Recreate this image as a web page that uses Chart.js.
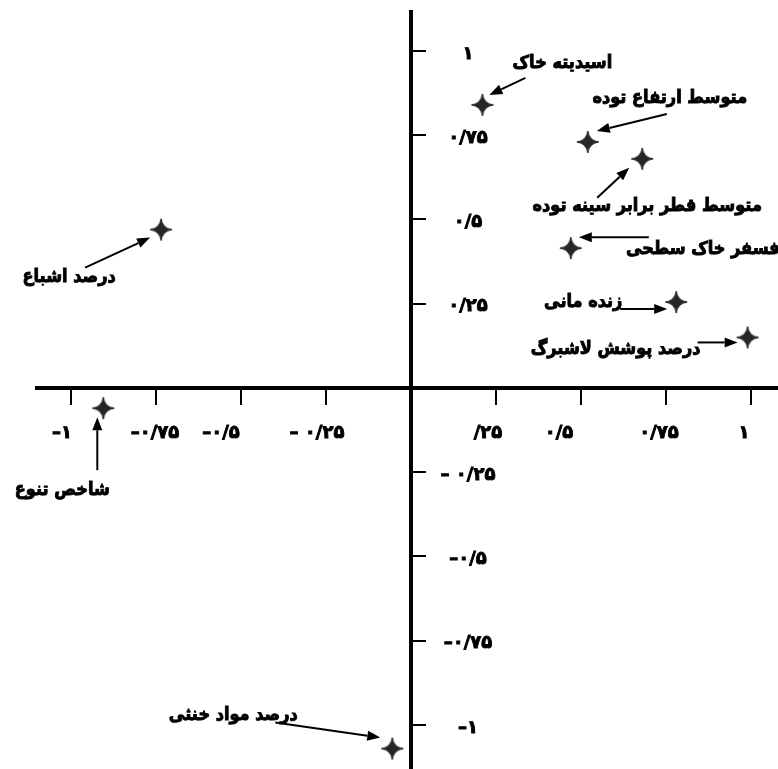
<!DOCTYPE html>
<html>
<head>
<meta charset="utf-8">
<script src="https://cdn.jsdelivr.net/npm/chart.js@4.4.1/dist/chart.umd.min.js"></script>
<style>
  body { margin: 0; background: #fff; }
  #chart { display: block; }
</style>
</head>
<body>
<canvas id="chart" width="778" height="769"></canvas>
<script>
// Variable names (Persian) and their loadings on the two axes
const names = [
    'اسیدیته خاک',
    'متوسط ارتفاع توده',
    'متوسط قطر برابر سینه توده',
    'فسفر خاک سطحی',
    'زنده مانی',
    'درصد پوشش لاشبرگ',
    'درصد اشباع',
    'شاخص تنوع',
    'درصد مواد خنثی'
];
const xValues = [0.21, 0.52, 0.68, 0.47, 0.78, 0.99, -0.735, -0.905, -0.055];
const yValues = [0.84, 0.73, 0.68, 0.415, 0.255, 0.15, 0.47, -0.06, -1.07];

// Tick values and their Persian labels
const xTicks = [-1, -0.75, -0.5, -0.25, 0.25, 0.5, 0.75, 1];
const xTickLabels = ['–۱', '–۰/۷۵', '–۰/۵', '– ۰/۲۵', '/۲۵', '۰/۵', '۰/۷۵', '۱'];
const yTicks = [1, 0.75, 0.5, 0.25, -0.25, -0.5, -0.75, -1];
const yTickLabels = ['۱', '۰/۷۵', '۰/۵', '۰/۲۵', '– ۰/۲۵', '–۰/۵', '–۰/۷۵', '–۱'];

// label / arrow placement, pixel offsets from each point
const labelOffset = [[80, -42], [82, -44], [5, 47], [132, 1], [-93, 0], [-132, 12], [-92, 48], [-41, 82], [-159, -33]];
const arrowTail = [[43, -27], [79, -28], [-45, 39], [78, -11], [-56, 7], [-50, 5], [-76, 38], [-6, 62], [-117, -26]];
const arrowHead = [[7, -10], [9, -11], [-13, 9], [8, -11], [-9, 7], [-10, 5], [-11, 8], [-6, 9], [-12, -11]];
const xLabelShift = [-9, -1, -20, -9, -8, -22, -7, -7];

function makeStar(r) {
    const c = document.createElement('canvas');
    c.width = c.height = r * 2 + 2;
    const g = c.getContext('2d');
    const m = r + 1, k = r * 0.12;
    g.beginPath();
    g.moveTo(m, m - r);
    g.quadraticCurveTo(m + k, m - k, m + r, m);
    g.quadraticCurveTo(m + k, m + k, m, m + r);
    g.quadraticCurveTo(m - k, m + k, m - r, m);
    g.quadraticCurveTo(m - k, m - k, m, m - r);
    g.closePath();
    g.fillStyle = '#262626';
    g.fill();
    g.lineWidth = 1;
    g.strokeStyle = '#262626';
    g.stroke();
    return c;
}

function drawArrow(ctx, x1, y1, x2, y2) {
    const a = Math.atan2(y2 - y1, x2 - x1);
    const len = 13, w = 5;
    ctx.beginPath();
    ctx.moveTo(x1, y1);
    ctx.lineTo(x2 - len * Math.cos(a), y2 - len * Math.sin(a));
    ctx.stroke();
    ctx.beginPath();
    ctx.moveTo(x2, y2);
    ctx.lineTo(x2 - len * Math.cos(a) + w * Math.sin(a), y2 - len * Math.sin(a) - w * Math.cos(a));
    ctx.lineTo(x2 - len * Math.cos(a) - w * Math.sin(a), y2 - len * Math.sin(a) + w * Math.cos(a));
    ctx.closePath();
    ctx.fill();
}

// heavy text: fill + thin stroke, squeezed a little horizontally
function boldText(ctx, s, x, y, sx, sy) {
    ctx.save();
    ctx.translate(x, y);
    ctx.scale(sx, sy);
    ctx.fillText(s, 0, 0);
    ctx.lineWidth = 0.9;
    ctx.strokeText(s, 0, 0);
    ctx.restore();
}

const annotations = {
    id: 'annotations',
    afterDraw(chart) {
        const ctx = chart.ctx;
        const xs = chart.scales.x, ys = chart.scales.y;
        const x0 = xs.getPixelForValue(0), y0 = ys.getPixelForValue(0);
        ctx.save();
        ctx.fillStyle = '#000';
        ctx.strokeStyle = '#000';
        ctx.textAlign = 'center';
        ctx.textBaseline = 'middle';

        // tick labels
        ctx.font = 'bold 18px "DejaVu Sans"';
        ctx.direction = 'ltr';
        xTicks.forEach((v, i) => {
            boldText(ctx, xTickLabels[i], xs.getPixelForValue(v) + xLabelShift[i], y0 + 45, 1, 1);
        });
        yTicks.forEach((v, i) => {
            boldText(ctx, yTickLabels[i], x0 + 57, ys.getPixelForValue(v) + 3, 1, 1);
        });

        // variable names with arrows
        ctx.font = 'bold 17px "DejaVu Sans"';
        ctx.direction = 'rtl';
        names.forEach((n, i) => {
            const px = xs.getPixelForValue(xValues[i]);
            const py = ys.getPixelForValue(yValues[i]);
            boldText(ctx, n, px + labelOffset[i][0], py + labelOffset[i][1], 0.95, 1.06);
            ctx.lineWidth = 2;
            drawArrow(ctx, px + arrowTail[i][0], py + arrowTail[i][1], px + arrowHead[i][0], py + arrowHead[i][1]);
        });
        ctx.restore();
    }
};

const star = makeStar(11);

new Chart(document.getElementById('chart'), {
    type: 'scatter',
    data: {
        datasets: [{
            data: xValues.map((x, i) => ({ x: x, y: yValues[i] })),
            pointStyle: star,
            pointRadius: 11,
            pointHoverRadius: 11
        }]
    },
    options: {
        responsive: false,
        animation: false,
        devicePixelRatio: 1,
        layout: { autoPadding: false, padding: { left: 37, top: 12, right: 0, bottom: 0 } },
        plugins: { legend: { display: false }, tooltip: { enabled: false } },
        scales: {
            x: {
                type: 'linear',
                min: -1.1,
                max: 1.0794,
                position: { y: 0 },
                border: { display: true, color: '#000', width: 4 },
                grid: { display: true, drawOnChartArea: false, drawTicks: true, tickLength: 15, color: '#000', lineWidth: 2 },
                ticks: { display: false, stepSize: 0.25, includeBounds: false }
            },
            y: {
                type: 'linear',
                min: -1.1306,
                max: 1.1157,
                position: { x: 0 },
                border: { display: true, color: '#000', width: 4 },
                grid: { display: true, drawOnChartArea: false, drawTicks: true, tickLength: -17, color: '#000', lineWidth: 2 },
                ticks: { display: false, stepSize: 0.25, includeBounds: false }
            }
        }
    },
    plugins: [annotations]
});
</script>
</body>
</html>
